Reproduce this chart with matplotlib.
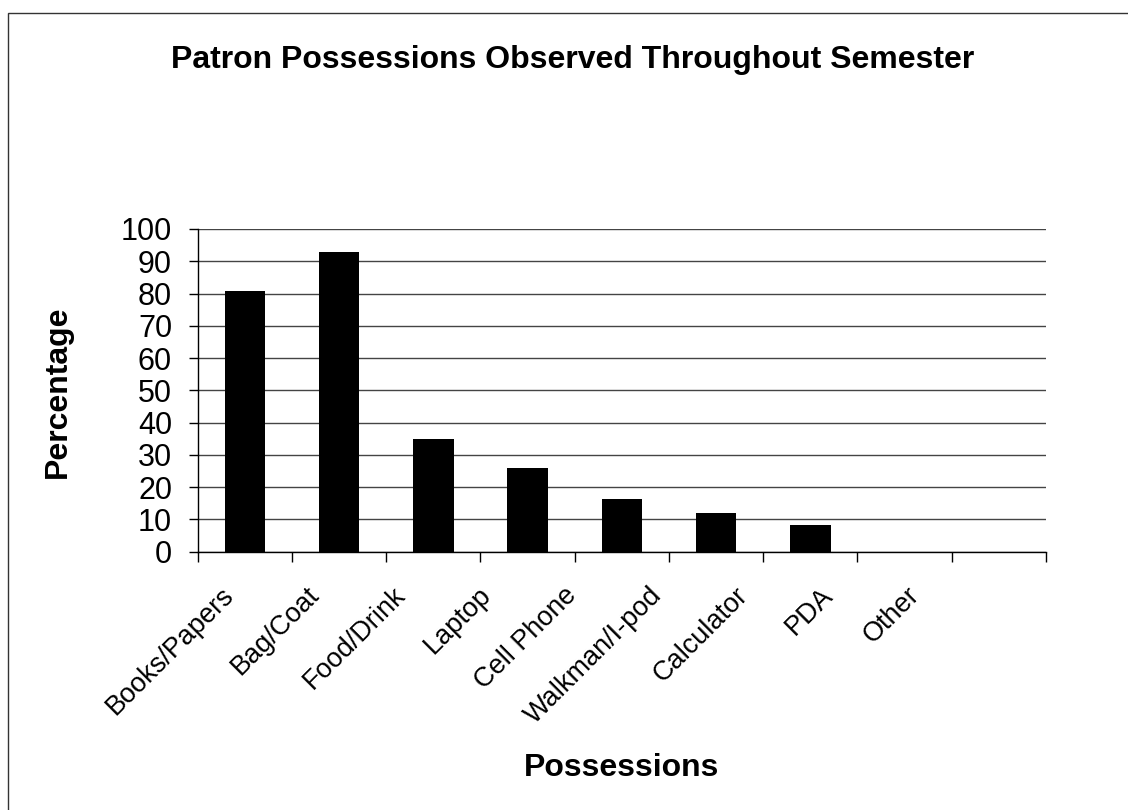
import matplotlib.pyplot as plt
import numpy as np
from matplotlib.patches import Rectangle
from matplotlib.transforms import ScaledTranslation

plt.rcParams["font.family"] = ["Liberation Sans", "DejaVu Sans"]

categories = ["Books/Papers", "Bag/Coat", "Food/Drink", "Laptop", "Cell Phone",
              "Walkman/I-pod", "Calculator", "PDA", "Other"]
percentages = [80.9, 92.8, 34.9, 25.8, 16.3, 11.9, 8.3, 0, 0]

fig = plt.figure(figsize=(11.28, 8.10), dpi=100)
ax = fig.add_axes([0.1753, 0.3189, 0.7520, 0.3984])

x = np.arange(len(categories))
ax.bar(x, percentages, width=0.43, color="black")

ax.set_xlim(-0.5, len(categories) - 0.5)
ax.set_ylim(0, 100)
ax.set_yticks(np.arange(0, 101, 10))
ax.yaxis.grid(True, color="#444444", linewidth=1.0)
ax.set_axisbelow(True)

# labels at bar centres, tick marks at category boundaries
ax.set_xticks(x)
ax.set_xticklabels(categories, rotation=45, ha="right", rotation_mode="anchor", fontsize=19.5)
ax.set_xticks(np.arange(-0.5, len(categories)), minor=True)
ax.tick_params(axis="x", which="major", length=0, pad=22)
ax.tick_params(axis="x", which="minor", length=7, width=1, direction="out")
ax.tick_params(axis="y", labelsize=22, length=6.5, width=1, pad=12)

# rotated labels drift slightly left across the axis
for i, lbl in enumerate(ax.get_xticklabels()):
    shift = ScaledTranslation((-24 - 8.6 * i) / 100, 0, fig.dpi_scale_trans)
    lbl.set_transform(lbl.get_transform() + shift)

for side in ("top", "right"):
    ax.spines[side].set_visible(False)
for side in ("left", "bottom"):
    ax.spines[side].set_linewidth(1.0)

ax.set_ylabel("Percentage", fontsize=23, fontweight="bold")
ax.yaxis.set_label_coords(-0.147, 0.495)
ax.set_xlabel("Possessions", fontsize=23, fontweight="bold")
ax.xaxis.set_label_coords(0.50, -0.625)
fig.text(0.508, 1 - 68 / 810, "Patron Possessions Observed Throughout Semester",
         ha="center", va="baseline", fontsize=23, fontweight="bold")

# frame line along the top and left of the chart area
fig.patches.append(Rectangle((8 / 1128, -0.1), 1.2, 1.1 - 13 / 810,
                             transform=fig.transFigure, fill=False,
                             edgecolor="#333333", linewidth=1.0))

fig.savefig("out.png", dpi=100)
